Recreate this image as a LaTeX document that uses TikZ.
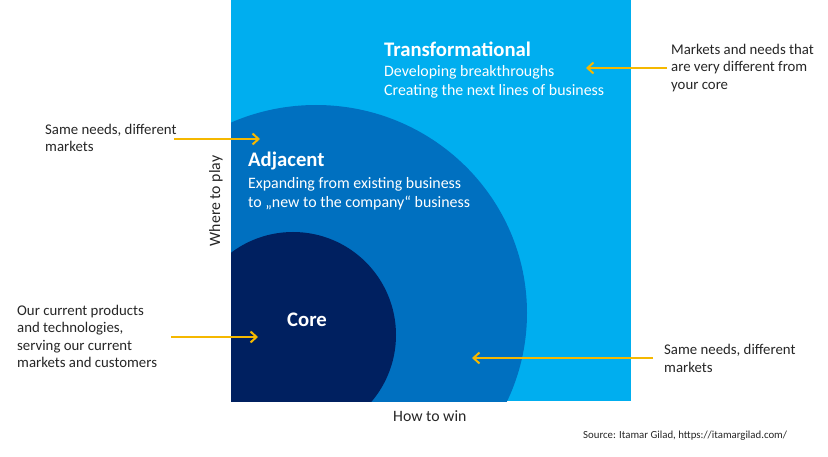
\documentclass[tikz,border=0pt]{standalone}
\usepackage{fontspec}
\setmainfont{Carlito}
\usetikzlibrary{arrows.meta}
\definecolor{lightb}{HTML}{00AEEF}
\definecolor{midb}{HTML}{0070C0}
\definecolor{darkb}{HTML}{002060}
\definecolor{arrowc}{HTML}{F5B800}
\definecolor{txt}{HTML}{262626}
\tikzset{
  note/.style={font=\fontsize{14.8}{17.5}\selectfont, text=txt, align=left, inner sep=0pt, anchor=west},
  axislab/.style={font=\fontsize{15.8}{18}\selectfont, text=txt, inner sep=0pt},
  title/.style={font=\bfseries\fontsize{20.7}{22}\selectfont, text=white, inner sep=0pt, anchor=west},
  sub/.style={font=\fontsize{15.9}{19}\selectfont, text=white, align=left, inner sep=0pt, anchor=west},
  pointer/.style={draw=arrowc, line width=2pt, -{Straight Barb[length=6pt,width=11pt,line width=2pt]}},
}
\begin{document}
\begin{tikzpicture}[x=1pt,y=-1pt]
\useasboundingbox (0,0) rectangle (828,457);
\fill[white] (0,0) rectangle (828,457);
% square
\fill[lightb] (231,0) rectangle (631,401);
\begin{scope}
  \clip (231,0) rectangle (631,401);
  \fill[midb] (316,313) ellipse [x radius=211, y radius=208];
  \fill[darkb] (293,335) circle [radius=103];
\end{scope}
% texts inside
\node[title] (tt) at (384,49) {Transformational};
\node[sub] (ts) at (384,81.5) {Developing breakthroughs\\Creating the next lines of business};
\node[title] (at) at (248,161) {Adjacent};
\node[sub] (as) at (248,193.5) {Expanding from existing business\\to „new to the company“ business};
\node[title, anchor=center] (ct) at (307,320) {Core};
% axis labels
\node[axislab, rotate=90] (wp) at (216,201) {Where to play};
\node[axislab, anchor=west] (hw) at (393,416) {How to win};
\node[font=\fontsize{10.8}{12}\selectfont, text=txt, inner sep=0pt, anchor=west] (src) at (583,436) {Source: Itamar Gilad, https://itamargilad.com/};
% side notes
\node[note] (n1) at (671,68) {Markets and needs that\\are very different from\\your core};
\node[note] (n2) at (45,138) {Same needs, different\\markets};
\node[note] (n3) at (17,336.5) {Our current products\\and technologies,\\serving our current\\markets and customers};
\node[note] (n4) at (664,358.5) {Same needs, different\\markets};
% arrow endpoints
\coordinate (a1s) at (667,68);  \coordinate (a1e) at (586,68);
\coordinate (a2s) at (174,139); \coordinate (a2e) at (260,139);
\coordinate (a3s) at (171,337); \coordinate (a3e) at (258,337);
\coordinate (a4s) at (653,358); \coordinate (a4e) at (472,358);
\draw[pointer] (a1s) -- (a1e);
\draw[pointer] (a2s) -- (a2e);
\draw[pointer] (a3s) -- (a3e);
\draw[pointer] (a4s) -- (a4e);
\end{tikzpicture}
\end{document}
